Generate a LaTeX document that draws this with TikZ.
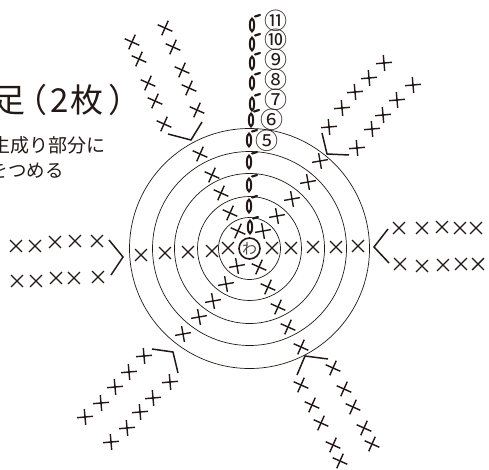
\documentclass[tikz,border=0pt]{standalone}
\usepackage{fontspec}
\newfontfamily\cjk{Noto Sans CJK JP}
\definecolor{inkblack}{HTML}{231815}
\tikzset{
  ringline/.style={inkblack,line width=0.7pt},
  bracketline/.style={inkblack,line width=1.5pt},
  stitch/.pic={\draw[inkblack,line width=1.4pt] (-8,0) -- (8,0) (0,-8) -- (0,8);},
  chain/.pic={
    \draw[inkblack,line width=2pt] (0,0) ellipse [x radius=2.1pt,y radius=6.4pt];
    \draw[inkblack,line width=2.2pt,line cap=round] (3,-8.5) -- (8,-10);
  },
  numlabel/.style={inkblack,inner sep=0pt,font=\cjk\fontsize{23}{23}\selectfont}
}
\begin{document}
\begin{tikzpicture}[x=1pt,y=-1pt]
    \useasboundingbox (0,0) rectangle (489,470);

    % title
    \node[anchor=west,inkblack,inner sep=0pt,font=\cjk\fontsize{33}{33}\selectfont] (title) at (-8,100)
      {足\kern-11pt（\kern3pt 2\kern2pt 枚\kern5pt ）};
    \node[anchor=east,inkblack,inner sep=0pt,font=\cjk\fontsize{19}{19}\selectfont] (line1) at (106,145) {生成り部分に};
    \node[anchor=east,inkblack,inner sep=0pt,font=\cjk\fontsize{18.5}{18.5}\selectfont] (line2) at (64,171) {をつめる};

    \foreach \r in {31,52,75,97,120} {
        \draw[ringline] (249.5,248.5) circle (\r pt);
    }
    \node[circle,draw=inkblack,line width=1.6pt,minimum size=21pt,inner sep=0pt,
      text=inkblack!80,font=\cjk\fontsize{15}{15}\selectfont] (ring) at (249.5,248.5) {わ};

    % chain column
    \foreach \x/\y in {252/25,252/44,252/63,252/83,252/104,251/120,249/140,249/162,249/185,249/206,250/227} {
        \pic at (\x,\y) {chain};
    }
    \foreach \x/\y/\n in {276/21/⑪,276/40/⑩,276/60/⑨,276/80/⑧,276/100/⑦,272/120/⑥,267/141/⑤} {
        \node[numlabel] (num\n) at (\x,\y) {\n};
    }

    % rows left and right
    \foreach \x/\y in {141/255,165/253,188/252,212/251,228/248,272/248,291/248,313/247,336/247,358/246,
      16/246,35/246,55/242,75/241,97/241,17/281,36/281,56/278,74/278,98/277,
      399/228,422/228,442/227,460/228,476/228,400/264,422/266,443/265,461/264,478/264} {
        \pic[rotate=45,scale=1.05] at (\x,\y) {stitch};
    }

    % rows upper right and lower left
    \foreach \x/\y in {263/231,277/216,292/199,308/182,320/161,
      237/266,226/284,213/301,199/317,183/334} {
        \pic[rotate=10] at (\x,\y) {stitch};
    }
    \foreach \x/\y in {329/127,342/108,355/92,369/78,384/63,357/148,372/129,383/115,397/100,413/85,
      144/356,129/372,115/387,101/403,85/417,170/382,153/398,140/412,127/428,111/442} {
        \pic[rotate=5] at (\x,\y) {stitch};
    }

    % rows upper left and lower right
    \foreach \x/\y in {238/231,230/213,221/193,212/175,200/154,
      259/267,268/287,278/307,288/327,301/347,
      132/42,139/59,148/83,155/101,164/124,165/28,173/47,182/70,189/88,197/110,
      333/368,344/389,353/407,364/428,372/444,301/385,312/405,321/423,333/445,340/461} {
        \pic[rotate=-24] at (\x,\y) {stitch};
    }

    % brackets
    \draw[bracketline] (168,134) -- (191,140) -- (202,122);
    \draw[bracketline] (322,133) -- (327,154) -- (349,155);
    \draw[bracketline] (388,229) -- (374,247) -- (389,263);
    \draw[bracketline] (109,240) -- (123,257) -- (111,275);
    \draw[bracketline] (152,349) -- (173,352) -- (178,373);
    \draw[bracketline] (328,359) -- (305,356) -- (297,375);
\end{tikzpicture}
\end{document}
